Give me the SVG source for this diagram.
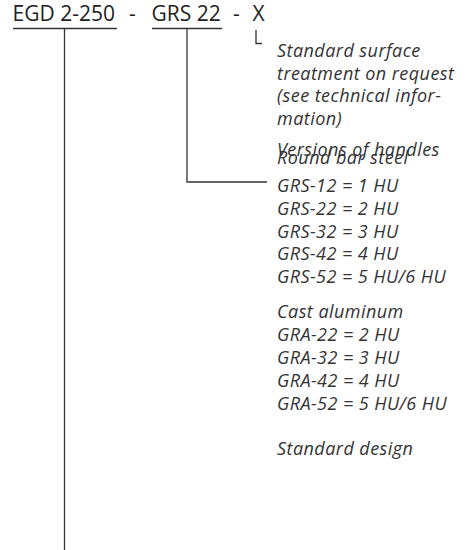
<svg xmlns="http://www.w3.org/2000/svg" width="469" height="550" viewBox="0 0 469 550">
<style>
.t{font-family:"Open Sans","Liberation Sans",sans-serif;font-size:21px;fill:#222}
.b{font-family:"Open Sans","Liberation Sans",sans-serif;font-size:18px;letter-spacing:0.45px;font-style:italic;fill:#333}
.l{stroke:#333;stroke-width:1.3;fill:none}
</style>
<rect width="469" height="550" fill="#fff"/>
<g id="title">
<text class="t" x="12.5" y="21">EGD 2-250</text>
<text class="t" x="129" y="21">-</text>
<text class="t" x="151.5" y="21">GRS 22</text>
<text class="t" x="233" y="21">-</text>
<text class="t" x="252.5" y="21">X</text>
</g>
<g id="connectors">
<path class="l" d="M13 28.5H117M152 28.5H222"/>
<path class="l" d="M64.5 28.5V550"/>
<path class="l" d="M187 28.5V182H267"/>
<path class="l" d="M256 30V43.5H262"/>
</g>
<g id="surface">
<text class="b" x="277" y="57">Standard surface</text>
<text class="b" x="277" y="79.7">treatment on request</text>
<text class="b" x="277" y="102.4">(see technical infor-</text>
<text class="b" x="277" y="125.1">mation)</text>
</g>
<g id="handles">
<text class="b" x="277" y="155.5">Versions of handles</text>
<text class="b" x="277" y="163.5">Round bar steel</text>
<text class="b" x="277" y="192">GRS-12 = 1 HU</text>
<text class="b" x="277" y="214.8">GRS-22 = 2 HU</text>
<text class="b" x="277" y="237.6">GRS-32 = 3 HU</text>
<text class="b" x="277" y="260.4">GRS-42 = 4 HU</text>
<text class="b" x="277" y="283.2">GRS-52 = 5 HU/6 HU</text>
<text class="b" x="277" y="317.5">Cast aluminum</text>
<text class="b" x="277" y="340.5">GRA-22 = 2 HU</text>
<text class="b" x="277" y="363.5">GRA-32 = 3 HU</text>
<text class="b" x="277" y="386.5">GRA-42 = 4 HU</text>
<text class="b" x="277" y="409.5">GRA-52 = 5 HU/6 HU</text>
</g>
<g id="design">
<text class="b" x="277" y="455">Standard design</text>
</g>
</svg>
